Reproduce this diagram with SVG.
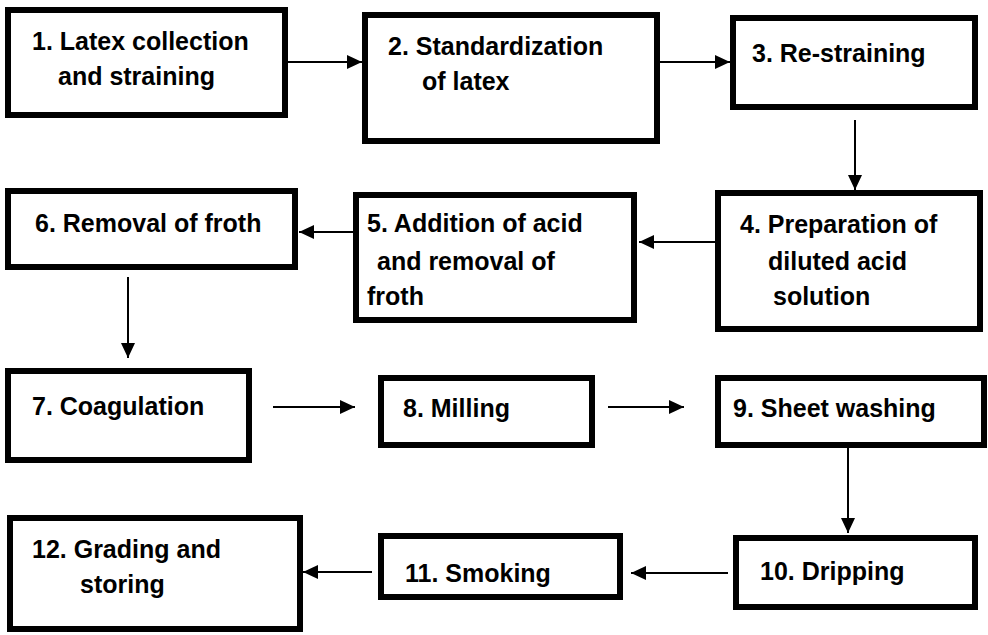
<svg xmlns="http://www.w3.org/2000/svg" width="988" height="635" viewBox="0 0 988 635">
<style>
.box{fill:#fff;stroke:#000;stroke-width:6}
.t{font-family:"Liberation Sans",Arial,sans-serif;font-weight:bold;font-size:25px;fill:#000}
.c{stroke:#000;stroke-width:2;fill:none}
</style>
<defs>
<marker id="ah" viewBox="0 0 15 14" refX="15" refY="7" markerWidth="15" markerHeight="14" markerUnits="userSpaceOnUse" orient="auto">
<path d="M0,0 L15,7 L0,14 z" fill="#000"/>
</marker>
</defs>
<rect width="988" height="635" fill="#fff"/>
<g id="connectors">
<line class="c" x1="288" y1="62" x2="362" y2="62" marker-end="url(#ah)"/>
<line class="c" x1="660" y1="62" x2="730" y2="62" marker-end="url(#ah)"/>
<line class="c" x1="855" y1="120" x2="855" y2="190" marker-end="url(#ah)"/>
<line class="c" x1="715" y1="242" x2="639" y2="242" marker-end="url(#ah)"/>
<line class="c" x1="353" y1="232" x2="299" y2="232" marker-end="url(#ah)"/>
<line class="c" x1="128" y1="277" x2="128" y2="358" marker-end="url(#ah)"/>
<line class="c" x1="273" y1="407" x2="355" y2="407" marker-end="url(#ah)"/>
<line class="c" x1="608" y1="407" x2="684" y2="407" marker-end="url(#ah)"/>
<line class="c" x1="848" y1="448" x2="848" y2="533" marker-end="url(#ah)"/>
<line class="c" x1="728" y1="573" x2="631" y2="573" marker-end="url(#ah)"/>
<line class="c" x1="372" y1="572" x2="303" y2="572" marker-end="url(#ah)"/>
</g>
<g id="n1"><rect class="box" x="8" y="10" width="277" height="105"/>
<text class="t" x="32" y="50">1. Latex collection</text><text class="t" x="58" y="85">and straining</text></g>
<g id="n2"><rect class="box" x="365" y="15" width="292" height="126"/>
<text class="t" x="388" y="55">2. Standardization</text><text class="t" x="422" y="90">of latex</text></g>
<g id="n3"><rect class="box" x="733" y="18" width="242" height="89"/>
<text class="t" x="752" y="62">3. Re-straining</text></g>
<g id="n4"><rect class="box" x="718" y="193" width="262" height="136"/>
<text class="t" x="740" y="233">4. Preparation of</text><text class="t" x="768" y="270">diluted acid</text><text class="t" x="773" y="305">solution</text></g>
<g id="n5"><rect class="box" x="356" y="195" width="278" height="125"/>
<text class="t" x="367" y="232">5. Addition of acid</text><text class="t" x="377" y="270">and removal of</text><text class="t" x="367" y="305">froth</text></g>
<g id="n6"><rect class="box" x="8" y="191" width="287" height="76"/>
<text class="t" x="35" y="232">6. Removal of froth</text></g>
<g id="n7"><rect class="box" x="8" y="371" width="241" height="89"/>
<text class="t" x="32" y="415">7. Coagulation</text></g>
<g id="n8"><rect class="box" x="381" y="378" width="211" height="67"/>
<text class="t" x="403" y="417">8. Milling</text></g>
<g id="n9"><rect class="box" x="718" y="378" width="266" height="67"/>
<text class="t" x="733" y="417">9. Sheet washing</text></g>
<g id="n10"><rect class="box" x="736" y="538" width="239" height="69"/>
<text class="t" x="760" y="580">10. Dripping</text></g>
<g id="n11"><rect class="box" x="381" y="536" width="239" height="61"/>
<text class="t" x="405" y="582">11. Smoking</text></g>
<g id="n12"><rect class="box" x="10" y="518" width="290" height="111"/>
<text class="t" x="32" y="558">12. Grading and</text><text class="t" x="80" y="593">storing</text></g>
</svg>
